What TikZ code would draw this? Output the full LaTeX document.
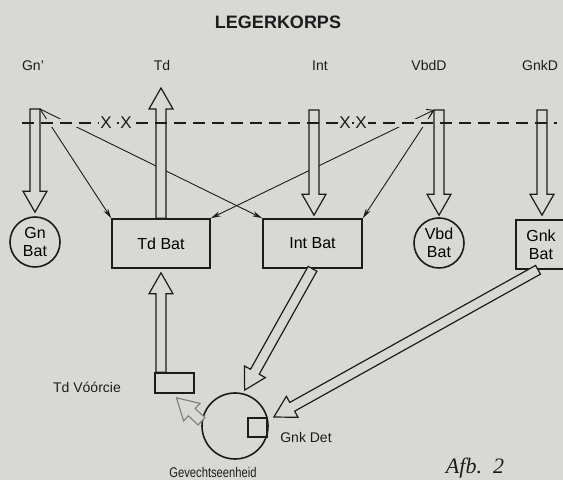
\documentclass[tikz,border=0pt]{standalone}
\usepackage{fontspec}
\setmainfont{Liberation Sans}
\newfontfamily\afbfont{Liberation Serif}
\usetikzlibrary{calc,arrows.meta}
\definecolor{paper}{RGB}{216,216,213}
\definecolor{ink}{RGB}{28,28,28}

\tikzset{
  unitnode/.style={draw=ink, line width=0.8pt, inner sep=0pt, align=center, font=\fontsize{8}{9}\selectfont},
  batbox/.style={unitnode, rectangle, minimum height=24.5pt},
  batcircle/.style={unitnode, circle, minimum size=25pt},
  lbl/.style={font=\fontsize{7}{8}\selectfont, text=ink, inner sep=0pt},
  xmark/.style={font=\fontsize{8.5}{8.5}\selectfont, text=ink, fill=paper, inner sep=0.6pt},
  blockarrow/.style={draw=ink, line width=0.6pt, fill=paper, line join=miter},
  thinarrow/.style={draw=ink, line width=0.45pt, -{Stealth[length=5pt,width=2.6pt]}},
}

% hollow arrow from #2 to #3
\newcommand{\hollowarrow}[3][]{%
  \coordinate (ha-s) at (#2);
  \coordinate (ha-e) at (#3);
  \coordinate (ha-b) at ($(ha-e)!10.5pt!(ha-s)$);
  \draw[blockarrow,#1] ($(ha-s)!2.5pt!90:(ha-e)$) -- ($(ha-b)!2.5pt!90:(ha-e)$)
    -- ($(ha-b)!6pt!90:(ha-e)$) -- (ha-e) -- ($(ha-b)!6pt!-90:(ha-e)$)
    -- ($(ha-b)!2.5pt!-90:(ha-e)$) -- ($(ha-s)!2.5pt!-90:(ha-e)$) -- cycle;
}

\begin{document}
\begin{tikzpicture}[x=0.5pt,y=-0.5pt]
  \fill[paper] (0,0) rectangle (563,480);
  \useasboundingbox (0,0) rectangle (563,480);

  % headings
  \node[font=\fontsize{9}{9}\selectfont\bfseries, text=ink] (korps) at (278,22) {LEGERKORPS};
  \node[lbl] (gnl) at (33,66) {Gn'};
  \node[lbl] (tdl) at (162,66) {Td};
  \node[lbl] (intl) at (320,66) {Int};
  \node[lbl] (vbdl) at (429,66) {VbdD};
  \node[lbl] (gnkl) at (540,66) {GnkD};

  % units
  \node[batcircle] (gnbat) at (35,242) {Gn\\Bat};
  \node[batbox, minimum width=49pt] (tdbat) at (161,243.5) {Td Bat};
  \node[batbox, minimum width=49.5pt] (intbat) at (312.5,243.5) {Int Bat};
  \node[batcircle] (vbdbat) at (439,243) {Vbd\\Bat};
  \node[batbox, minimum width=25pt] (gnkbat) at (541,244.5) {Gnk\\Bat};

  \node[unitnode, minimum width=19.5pt, minimum height=10pt] (vbox) at (174.5,383) {};
  \node[lbl] (vboxl) at (87,387) {Td V\'o\'orcie};
  \node[unitnode, circle, minimum size=33pt] (gev) at (235,426) {};
  \node[unitnode, minimum size=9.5pt] (gnkdet) at (257.5,427.5) {};
  \node[lbl] (gnkdetl) at (306,437) {Gnk Det};
  \node[lbl] (gevl) at (213,472) {\addfontfeature{FakeStretch=0.8}Gevechtseenheid};
  \node[font=\afbfont\itshape\fontsize{11}{11}\selectfont, text=ink] (afb) at (475,468) {Afb.~~2};

  % poles
  \coordinate (gnt) at (35,109);
  \coordinate (tdt) at (161,88);
  \coordinate (intt) at (314,110);
  \coordinate (vbdt) at (439,110);
  \coordinate (gnkt) at (542,110);
  \coordinate (gnc) at (40,109);
  \coordinate (vbdc) at (434,110);
  \coordinate (dl) at (22,123);
  \coordinate (dr) at (557,123);

  % thin arrows
  \draw[thinarrow] (gnc) -- (tdbat.north west);
  \draw[thinarrow] (gnc) -- (intbat.north west);
  \draw[thinarrow, {Stealth[length=5pt,width=2.6pt]}-{Straight Barb[length=3pt,width=4pt]}] (tdbat.north east) -- (vbdc);
  \draw[thinarrow] (vbdc) -- (intbat.north east);

  \draw[paper, line width=4pt] (dl) -- (dr);

  \hollowarrow{gnt}{$(gnbat.north)+(0,-4)$}
  \hollowarrow{tdbat.north}{tdt}
  \hollowarrow{intt}{$(intbat.north -| intt)+(0,-3)$}
  \hollowarrow{vbdt}{$(vbdbat.north)+(0,-2)$}
  \hollowarrow{gnkt}{$(gnkt |- gnkbat.north)+(0,-4)$}

  % boundary
  \draw[ink, line width=0.7pt, dash pattern=on 6pt off 3.5pt] (dl) -- (dr);
  \node[xmark] (x1) at (106,123) {X};
  \node[xmark] (x2) at (126,123) {X};
  \node[xmark] (x3) at (345,123) {X};
  \node[xmark] (x4) at (361,123) {X};

  % to the combat unit
  \hollowarrow{vbox.north -| tdbat.south}{$(tdbat.south)+(0,4)$}
  \hollowarrow{intbat.south}{$(gev.center)!1.1!(gev.75)$}
  \hollowarrow{$(gnkbat.south)+(-3,0)$}{$(gev.center)!1.18!(gev.13)$}
  \hollowarrow[draw=ink!55]{gev.172}{$(vbox.south)+(2,4)$}
\end{tikzpicture}
\end{document}
